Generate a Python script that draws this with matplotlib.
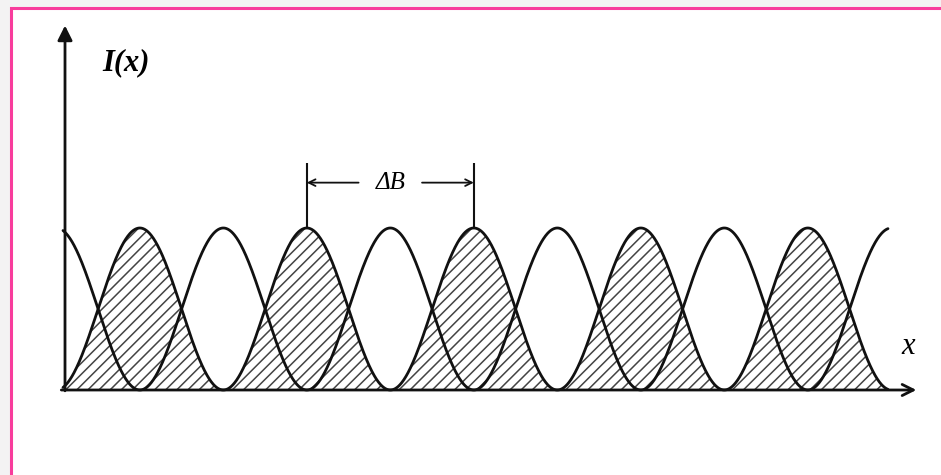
import numpy as np
import matplotlib.pyplot as plt
from matplotlib.patches import Rectangle

# fringe maxima, x measured in units of the fringe spacing
hatched_peaks = [0.46, 1.46, 2.46, 3.46, 4.46]
open_peaks = [-0.04, 0.96, 1.96, 2.96, 3.96, 4.96]
peak_height = 1.0
x_end = 4.94
spacing_span = (1, 2)   # which hatched peaks the ΔB marker spans


def fringe(x, peaks):
    y = np.zeros_like(x)
    for p in peaks:
        near = np.abs(x - p) <= 0.5
        y[near] += peak_height * np.cos(np.pi * (x[near] - p)) ** 2
    return y


plt.rcParams['hatch.linewidth'] = 1.1
plt.rcParams['hatch.color'] = '#444444'

fig = plt.figure(figsize=(9.41, 4.75), dpi=100, facecolor='#f3f3f3')
# pink frame, only the top and left edges are inside the picture
fig.patches.append(Rectangle((11 / 941, -0.2), 1.2, 1.2 - 8 / 475,
                             transform=fig.transFigure, facecolor='white',
                             edgecolor='#f83c9c', lw=2.2, zorder=-1))

ax = fig.add_axes([0, 0, 1, 1])
ax.set_axis_off()
ax.set_xlim(-63 / 167, 878 / 167)
ax.set_ylim(-85 / 162, 390 / 162)

x = np.linspace(0, x_end, 2000)
y_hatched = fringe(x, hatched_peaks)
y_open = fringe(x, open_peaks)

ax.fill_between(x, 0, y_hatched, facecolor='none', hatch='///',
                edgecolor='#444444', lw=0)
ax.plot(x, y_hatched, color='#111111', lw=2.0, solid_capstyle='round')
ax.plot(x, y_open, color='#111111', lw=2.0, solid_capstyle='round')

# axes with arrows
ax.annotate('', xy=(0.012, 2.25), xytext=(0.012, -0.005),
            arrowprops=dict(arrowstyle='-|>', lw=2.0, color='#111111',
                            mutation_scale=22, shrinkA=0, shrinkB=0))
ax.annotate('', xy=(5.11, 0), xytext=(-0.01, 0),
            arrowprops=dict(arrowstyle='->', lw=2.0, color='#111111',
                            mutation_scale=20, shrinkA=0, shrinkB=0))

ax.text(0.38, 2.02, 'I(x)', fontsize=22, fontfamily='Liberation Serif',
        fontweight='bold', fontstyle='italic', ha='center', va='center')
ax.text(5.06, 0.27, 'x', fontsize=22, fontfamily='Liberation Serif',
        fontstyle='italic', ha='center', va='center')

# ΔB spacing marker
xa = hatched_peaks[spacing_span[0]]
xb = hatched_peaks[spacing_span[1]]
mid = (xa + xb) / 2
y_mark = 1.28
ax.vlines([xa, xb], peak_height, 1.40, color='#111111', lw=1.5)
ax.text(mid, y_mark, 'ΔB', fontsize=18, fontfamily='Liberation Serif',
        fontstyle='italic', ha='center', va='center')
for tail, head in [(mid - 0.19, xa), (mid + 0.19, xb)]:
    ax.annotate('', xy=(head, y_mark), xytext=(tail, y_mark),
                arrowprops=dict(arrowstyle='->', lw=1.3, color='#111111',
                                mutation_scale=12, shrinkA=0, shrinkB=0))

fig.savefig('out.png', dpi=100, facecolor=fig.get_facecolor())
